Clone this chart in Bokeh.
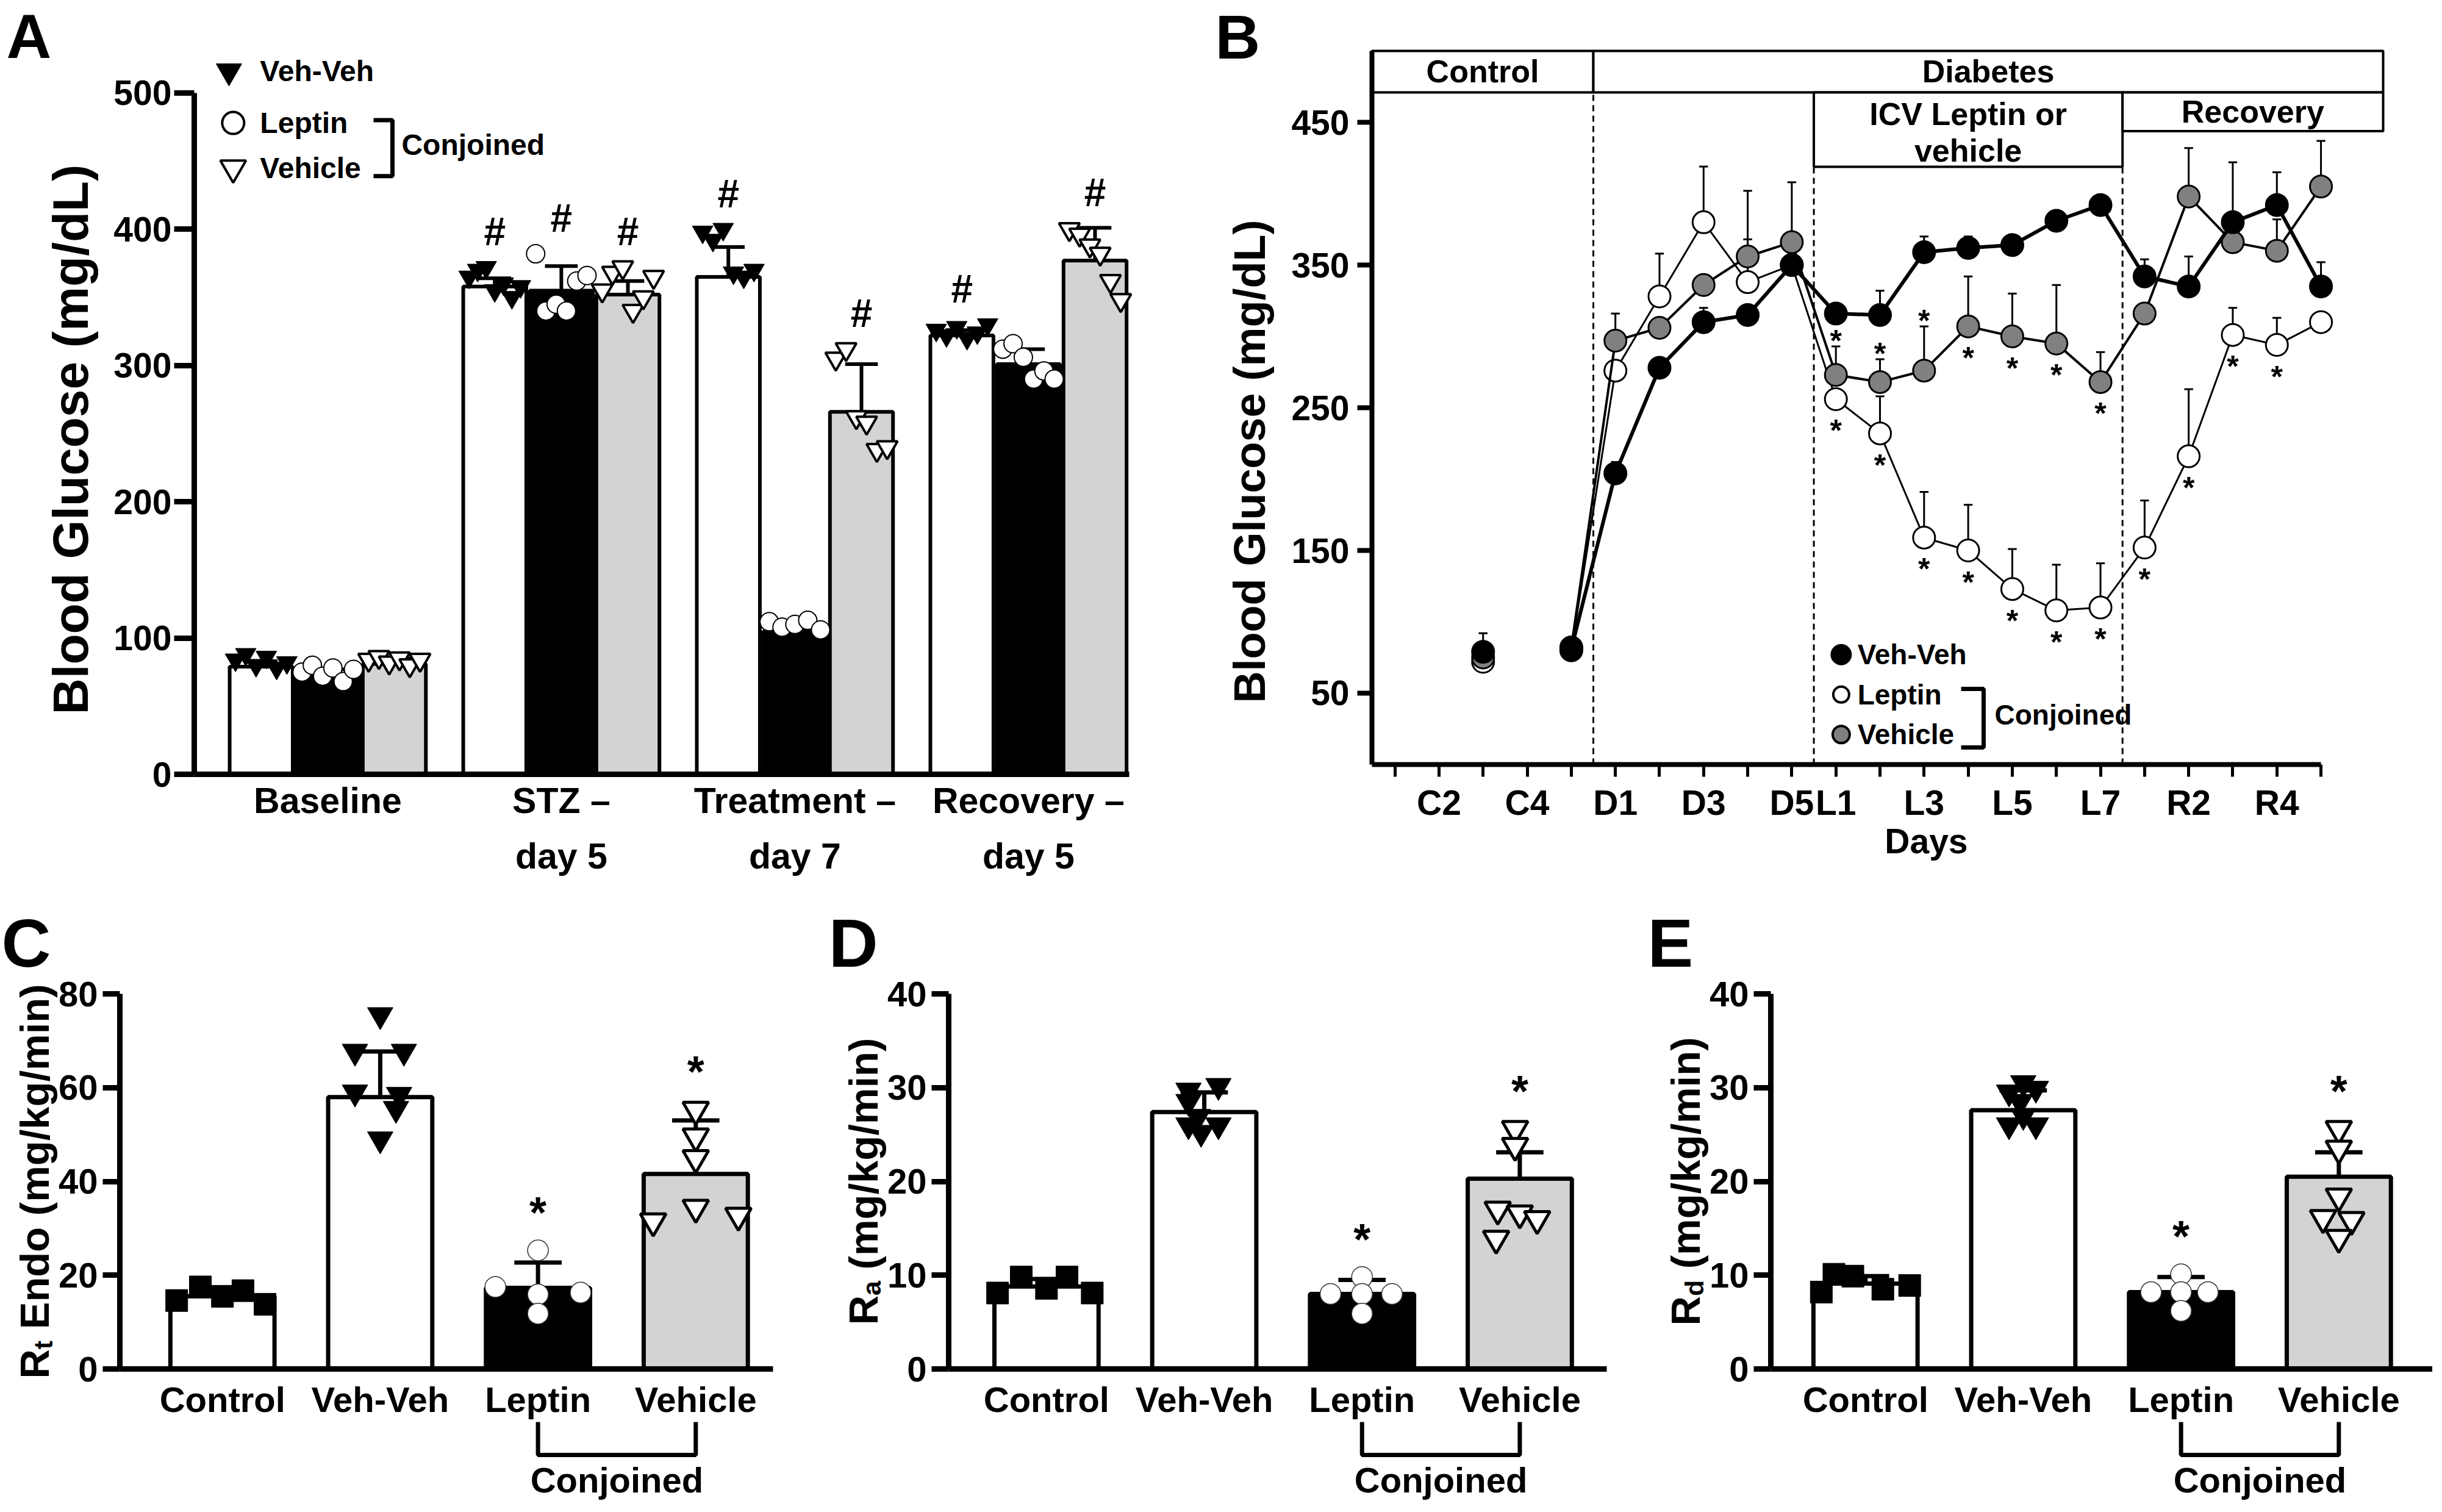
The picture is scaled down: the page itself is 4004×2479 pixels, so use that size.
import math
from bokeh.plotting import figure
from bokeh.layouts import row, column
from bokeh.models import FixedTicker, Range1d
from bokeh.core.properties import value
from bokeh.embed import file_html
from bokeh.resources import INLINE

NaN = float("nan")

# ============================ DATA ============================
# Panel A - blood glucose (mg/dL) per period
A_GROUPS = ["Baseline", "STZ –\nday 5", "Treatment –\nday 7", "Recovery –\nday 5"]
A_SERIES = ["Veh-Veh", "Leptin", "Vehicle"]
A_VEHVEH_MEAN = [79, 358, 365, 322]
A_LEPTIN_MEAN = [73, 355, 105, 301]
A_VEHICLE_MEAN = [81, 352, 266, 377]
A_VEHVEH_SEM = [4, 6, 22, 4]
A_LEPTIN_SEM = [4, 18, 4, 11]
A_VEHICLE_SEM = [4, 10, 35, 24]
A_VEHVEH_PTS = [[84, 88, 80, 86, 78, 82],
                [365, 370, 372, 355, 360, 350, 358],
                [398, 392, 400, 368, 365, 370],
                [326, 322, 328, 320, 324, 330]]
A_LEPTIN_PTS = [[75, 80, 72, 78, 68, 77],
                [382, 340, 345, 340, 362, 366],
                [112, 108, 110, 113, 106],
                [312, 316, 306, 290, 296, 290]]
A_VEHICLE_PTS = [[84, 86, 82, 85, 80, 84],
                 [355, 368, 372, 340, 350, 365],
                 [305, 312, 262, 258, 238, 240],
                 [400, 396, 388, 382, 362, 348]]
A_VEHVEH_SIG = [False, True, True, True]
A_LEPTIN_SIG = [False, True, False, False]
A_VEHICLE_SIG = [False, True, True, True]

# Panel B - daily blood glucose (mg/dL)
B_DAYS = ["C1", "C2", "C3", "C4", "C5", "D1", "D2", "D3", "D4", "D5",
          "L1", "L2", "L3", "L4", "L5", "L6", "L7", "R1", "R2", "R3", "R4", "R5"]
B_LABELED = ["C2", "C4", "D1", "D3", "D5", "L1", "L3", "L5", "L7", "R2", "R4"]
B_PHASES = ["Control", "Diabetes", "ICV Leptin or", "vehicle", "Recovery"]
B_VEHVEH = [NaN, NaN, 79, NaN, 81, 204, 278, 310, 315, 350, 316, 315, 359, 362, 364, 381, 392,
            342, 335, 380, 392, 335]
B_LEPTIN = [NaN, NaN, 72, NaN, 80, 276, 328, 380, 338, 350, 256, 232, 159, 150, 123, 108, 110,
            152, 216, 301, 294, 310]
B_VEHICLE = [NaN, NaN, 75, NaN, 82, 297, 306, 336, 356, 366, 273, 268, 276, 307, 300, 295, 268,
             316, 398, 366, 360, 405]
B_VEHVEH_SEM = [0, 0, 13, 0, 4, 8, 0, 10, 0, 0, 0, 17, 11, 8, 3, 0, 0, 12, 21, 42, 23, 17]
B_LEPTIN_SEM = [0, 0, 0, 0, 0, 0, 30, 39, 30, 0, 0, 26, 32, 32, 28, 32, 31, 33, 47, 19, 19, 0]
B_VEHICLE_SEM = [0, 0, 0, 0, 0, 19, 0, 0, 46, 42, 20, 16, 31, 35, 30, 41, 21, 0, 34, 0, 22, 32]
B_LEPTIN_SIG = [d in ("L1", "L2", "L3", "L4", "L5", "L6", "L7", "R1", "R2", "R3", "R4") for d in B_DAYS]
B_VEHICLE_SIG = [d in ("L1", "L2", "L3", "L4", "L5", "L6", "L7") for d in B_DAYS]
B_VEHICLE_SIG_ABOVE = ["L1", "L2", "L3"]

# Panels C-E - glucose kinetics (mg/kg/min)
CAT = ["Control", "Veh-Veh", "Leptin", "Vehicle"]
C_MEAN = [15.5, 58.0, 17.3, 41.6]
C_SEM = [1.0, 9.7, 5.4, 11.4]
C_PTS = [[14.6, 17.5, 15.5, 16.7, 13.8],
         [75.5, 67.7, 67.7, 59.0, 58.5, 55.5, 49.0],
         [25.3, 17.5, 16.3, 15.9, 11.8],
         [55.3, 49.6, 45.0, 31.5, 34.4, 32.7]]
D_MEAN = [8.8, 27.4, 8.0, 20.3]
D_SEM = [0.8, 2.1, 1.5, 2.8]
D_PTS = [[8.1, 9.8, 8.6, 9.8, 8.1],
         [29.7, 30.2, 28.5, 26.9, 26.0, 26.0, 25.2],
         [9.8, 8.0, 8.0, 8.0, 5.9],
         [25.6, 23.8, 17.0, 16.6, 16.0, 13.9]]
E_MEAN = [9.1, 27.6, 8.2, 20.5]
E_SEM = [0.8, 2.1, 1.6, 2.6]
E_PTS = [[8.2, 10.1, 9.9, 8.5, 8.9],
         [30.5, 29.5, 29.9, 28.5, 26.0, 26.0, 27.0],
         [10.1, 8.2, 8.2, 8.2, 6.2],
         [25.6, 23.5, 18.4, 16.1, 15.9, 14.0]]
CDE_SIG = [False, False, True, True]

# ============================ STYLE ============================
FONT = "Liberation Sans"
GRAY_BAR = "#d3d3d3"
GRAY_PT = "#808080"
LETTER_FS = 102          # (avoid sizes such as 100 that look like a CSS font weight)
LETTER_FS_BOTTOM = 112

# horizontal point spread inside the bars of C-E (x units, layout only)
C_JIT = [[-0.29, -0.14, 0.0, 0.13, 0.27], [0, -0.16, 0.15, -0.16, 0.12, 0.10, 0],
         [0, -0.27, 0.27, 0, 0], [0, 0, 0, -0.27, 0, 0.27]]
D_JIT = [[-0.31, -0.16, 0, 0.13, 0.29], [-0.1, 0.09, -0.1, -0.04, 0.09, -0.1, -0.02],
         [0, -0.2, 0, 0.19, 0], [-0.03, -0.03, -0.14, 0, 0.11, -0.15]]
E_JIT = [[-0.28, -0.2, -0.08, 0.11, 0.28], [0, -0.09, 0.08, -0.02, -0.09, 0.08, 0],
         [0, -0.19, 0, 0.17, 0], [0, 0, 0, -0.1, 0.08, 0]]

AW = {'R': .722, 'E': .667, 'n': .611, 'd': .611, 'o': .611, ' ': .278, '(': .333, ')': .333,
      'm': .889, 'g': .611, '/': .278, 'k': .556, 'i': .278, 't': .333, 'a': .556}


def base_fig(width, height, xr, yr):
    p = figure(width=width, height=height, x_range=Range1d(*xr), y_range=Range1d(*yr),
               output_backend="svg", toolbar_location=None, min_border=0,
               min_border_left=0, min_border_right=0, min_border_top=0, min_border_bottom=0)
    p.xgrid.visible = False
    p.ygrid.visible = False
    p.outline_line_color = None
    p.background_fill_color = "white"
    p.border_fill_color = "white"
    return p


def style_axis(ax, lw, tick_out, fs, standoff, loc, bounds):
    ax.fixed_location = loc
    ax.bounds = bounds
    ax.axis_line_width = lw
    ax.axis_line_color = "black"
    ax.major_tick_line_width = lw
    ax.major_tick_line_color = "black"
    ax.major_tick_out = tick_out
    ax.major_tick_in = 0
    ax.minor_tick_line_color = None
    ax.major_label_text_font = FONT
    ax.major_label_text_font_style = "bold"
    ax.major_label_text_font_size = f"{fs}px"
    ax.major_label_text_color = "black"
    ax.major_label_standoff = standoff


def txt(p, xs, ys, texts, fs, align="center", baseline="middle", angle=0.0):
    p.text(x=xs, y=ys, text=texts, text_font=value(FONT), text_font_size=f"{fs}px",
           text_font_style="bold", text_align=align, text_baseline=baseline, text_color="black",
           angle=angle)


# ============================ PANEL A ============================
A_AX = 0.428
pA = base_fig(1952, 1450, (-0.402, 4.695), (-81.0, 568.0))
A_PPU = 2.234
offs = [-0.285, 0.0, 0.285]
bar_w = 0.27
a_means = [A_VEHVEH_MEAN, A_LEPTIN_MEAN, A_VEHICLE_MEAN]
a_sems = [A_VEHVEH_SEM, A_LEPTIN_SEM, A_VEHICLE_SEM]
a_pts = [A_VEHVEH_PTS, A_LEPTIN_PTS, A_VEHICLE_PTS]
a_sig = [A_VEHVEH_SIG, A_LEPTIN_SIG, A_VEHICLE_SIG]
a_fill = ["white", "black", GRAY_BAR]
for k in range(3):
    xs = [i + 1 + offs[k] for i in range(len(A_GROUPS))]
    tops = [m + s for m, s in zip(a_means[k], a_sems[k])]
    pA.vbar(x=xs, top=a_means[k], bottom=0, width=bar_w, fill_color=a_fill[k],
            line_color="black", line_width=6)
    pA.segment(x0=xs, y0=a_means[k], x1=xs, y1=tops, line_color="black", line_width=6)
    pA.segment(x0=[x - 0.07 for x in xs], y0=tops, x1=[x + 0.07 for x in xs], y1=tops,
               line_color="black", line_width=6)
for k in range(3):
    px, py = [], []
    for i, vals in enumerate(a_pts[k]):
        n = len(vals)
        for j, v in enumerate(vals):
            px.append(i + 1 + offs[k] + (-0.11 + 0.22 * j / (n - 1)))
            py.append(v)
    if k == 0:
        pA.scatter(px, py, marker="inverted_triangle", size=34, fill_color="black", line_color="black")
    elif k == 1:
        pA.scatter(px, py, marker="circle", size=30, fill_color="white", line_color="black", line_width=2)
    else:
        pA.scatter(px, py, marker="inverted_triangle", size=34, fill_color="white", line_color="black",
                   line_width=4)
hx, hy = [], []
for k in range(3):
    for i in range(len(A_GROUPS)):
        if a_sig[k][i]:
            top = max(max(a_pts[k][i]), a_means[k][i] + a_sems[k][i])
            hx.append(i + 1 + offs[k])
            hy.append(top + 26)
txt(pA, hx, hy, ["#"] * len(hx), 64)
# legend of A
pA.scatter([0.577], [516], marker="inverted_triangle", size=42, fill_color="black", line_color="black")
pA.scatter([0.595], [478], marker="circle", size=36, fill_color="white", line_color="black", line_width=4)
pA.scatter([0.595], [445], marker="inverted_triangle", size=42, fill_color="white", line_color="black",
           line_width=4)
txt(pA, [0.71, 0.71, 0.71], [516, 478, 445], A_SERIES, 48, align="left")
pA.line([1.196, 1.277, 1.277, 1.196], [480, 480, 439, 439], line_color="black", line_width=7)
txt(pA, [1.316], [462], ["Conjoined"], 48, align="left")
style_axis(pA.yaxis[0], 9, 33, 57, 4, A_AX, (0, 500))
pA.yaxis.ticker = FixedTicker(ticks=[0, 100, 200, 300, 400, 500])
style_axis(pA.xaxis[0], 9, 0, 59, 10, 0, (A_AX, 4.43))
pA.xaxis.major_tick_line_color = None
pA.xaxis.major_label_text_line_height = 1.39
pA.xaxis.ticker = FixedTicker(ticks=[1, 2, 3, 4])
pA.xaxis.major_label_overrides = {i + 1: g for i, g in enumerate(A_GROUPS)}
txt(pA, [-0.102], [245.7], ["Blood Glucose (mg/dL)"], 82, angle=math.pi / 2)
txt(pA, [-0.376], [(1277 - 68) / A_PPU], ["A"], LETTER_FS, align="left")

# ============================ PANEL B ============================
B_AX = 0.48
pB = base_fig(2036, 1450, (-3.628, 24.53), (-84.2, 535.5))
B_PPU = 2.34
bx = list(range(1, len(B_DAYS) + 1))
bnd = {}
for i in range(1, len(B_DAYS)):
    if B_DAYS[i][0] != B_DAYS[i - 1][0]:
        bnd[B_DAYS[i][0]] = i + 0.5
X1 = 23.41
TOP, ROW1, ROW2A, ROW2B = 500, 471, 418.8, 443.8
box_l = [B_AX, bnd["D"], bnd["L"], bnd["R"]]
box_r = [bnd["D"], X1, bnd["R"], X1]
box_b = [ROW1, ROW1, ROW2A, ROW2B]
box_t = [TOP, TOP, ROW1, ROW1]
pB.quad(left=box_l, right=box_r, bottom=box_b, top=box_t, fill_color="white",
        line_color="black", line_width=4)
cx = [(l + r) / 2 for l, r in zip(box_l, box_r)]
txt(pB, [cx[0], cx[1], cx[2], cx[2], cx[3]],
    [(ROW1 + TOP) / 2, (ROW1 + TOP) / 2, 456, 430, (ROW1 + ROW2B) / 2],
    B_PHASES, 52)
pB.segment(x0=[bnd["D"], bnd["L"], bnd["R"]], y0=[0, 0, 0],
           x1=[bnd["D"], bnd["L"], bnd["R"]], y1=[ROW1, ROW2A, ROW2A],
           line_color="black", line_width=3, line_dash="10 7")


def b_series(vals, sems, fill, lw):
    keep = [i for i in range(len(vals)) if sems[i] > 0 and not math.isnan(vals[i])]
    ex = [bx[i] for i in keep]
    ey0 = [vals[i] for i in keep]
    ey1 = [vals[i] + sems[i] for i in keep]
    pB.segment(x0=ex, y0=ey0, x1=ex, y1=ey1, line_color="black", line_width=3)
    pB.segment(x0=[x - 0.1 for x in ex], y0=ey1, x1=[x + 0.1 for x in ex], y1=ey1,
               line_color="black", line_width=3)
    pB.line(bx, vals, line_color="black", line_width=lw)
    okx = [x for x, v in zip(bx, vals) if not math.isnan(v)]
    oky = [v for v in vals if not math.isnan(v)]
    pB.scatter(okx, oky, marker="circle", size=36, fill_color=fill, line_color="black", line_width=3)


b_series(B_LEPTIN, B_LEPTIN_SEM, "white", 3)
b_series(B_VEHICLE, B_VEHICLE_SEM, GRAY_PT, 4)
b_series(B_VEHVEH, B_VEHVEH_SEM, "black", 6)
B_STAR_FS = 50
sx, sy = [], []
for i, d in enumerate(B_DAYS):
    if B_LEPTIN_SIG[i]:
        sx.append(bx[i]); sy.append(B_LEPTIN[i] - 52 / B_PPU)
    if B_VEHICLE_SIG[i]:
        sx.append(bx[i])
        if d in B_VEHICLE_SIG_ABOVE:
            sy.append(B_VEHICLE[i] + B_VEHICLE_SEM[i] + 9 / B_PPU)
        else:
            sy.append(B_VEHICLE[i] - 52 / B_PPU)
txt(pB, sx, sy, ["*"] * len(sx), B_STAR_FS)
# legend of B
pB.scatter([11.12], [77], marker="circle", size=34, fill_color="black", line_color="black")
pB.scatter([11.12], [49], marker="circle", size=26, fill_color="white", line_color="black", line_width=4)
pB.scatter([11.12], [21], marker="circle", size=28, fill_color=GRAY_PT, line_color="black", line_width=4)
txt(pB, [11.49] * 3, [77, 49, 21], A_SERIES, 46, align="left")
pB.line([13.84, 14.35, 14.35, 13.84], [53, 53, 12, 12], line_color="black", line_width=7)
txt(pB, [14.6], [35], ["Conjoined"], 46, align="left")
style_axis(pB.yaxis[0], 8, 24, 57, 13, B_AX, (0, 500))
pB.yaxis.ticker = FixedTicker(ticks=[50, 150, 250, 350, 450])
style_axis(pB.xaxis[0], 8, 20, 57, 11, 0, (B_AX, len(B_DAYS)))
pB.xaxis.major_tick_line_width = 5
lab_x = [x for x, d in zip(bx, B_DAYS) if d in B_LABELED]
oth_x = [x for x, d in zip(bx, B_DAYS) if d not in B_LABELED]
pB.xaxis.ticker = FixedTicker(ticks=lab_x, minor_ticks=oth_x)
pB.xaxis.minor_tick_line_color = "black"
pB.xaxis.minor_tick_line_width = 5
pB.xaxis.minor_tick_out = 20
pB.xaxis.minor_tick_in = 0
pB.xaxis.major_label_overrides = {x: d for x, d in zip(bx, B_DAYS) if d in B_LABELED}
txt(pB, [13.05], [-126 / B_PPU], ["Days"], 57)
txt(pB, [-2.30], [212.4], ["Blood Glucose (mg/dL)"], 72, angle=math.pi / 2)
txt(pB, [-3.075], [(1261 - 68) / B_PPU], ["B"], LETTER_FS, align="left")


# ============================ PANELS C-E ============================
def rate_panel(width, xr, ax_x, x_end, ymax, step, mean, sem, pts, jit, sub, rest, letter, lx):
    ppu = 615.0 / ymax
    yr = (-219.0 / ppu, 794.0 / ppu)
    p = base_fig(width, 1013, xr, yr)
    xppu = 258.7
    xs = list(range(1, len(CAT) + 1))
    fills = ["white", "white", "black", GRAY_BAR]
    tops = [m + s for m, s in zip(mean, sem)]
    p.vbar(x=xs, top=mean, bottom=0, width=0.66, fill_color=fills, line_color="black", line_width=7)
    p.segment(x0=xs, y0=mean, x1=xs, y1=tops, line_color="black", line_width=7)
    p.segment(x0=[x - 0.15 for x in xs], y0=tops, x1=[x + 0.15 for x in xs], y1=tops,
              line_color="black", line_width=7)
    mk = [("square", "black", "black", 1, 36), ("inverted_triangle", "black", "black", 1, 42),
          ("circle", "white", "#333333", 1.5, 34), ("inverted_triangle", "white", "black", 5, 42)]
    for i in range(len(CAT)):
        m, fc, lc, lw, sz = mk[i]
        p.scatter([xs[i] + j for j in jit[i]], pts[i], marker=m, size=sz, fill_color=fc,
                  line_color=lc, line_width=lw)
    ax, ay = [], []
    for i in range(len(CAT)):
        if CDE_SIG[i]:
            ax.append(xs[i])
            ay.append(max(max(pts[i]), tops[i]) + 62 / ppu)
    txt(p, ax, ay, ["*"] * len(ax), 72)
    # "Conjoined" bracket under Leptin / Vehicle
    p.line([3, 3, 4, 4], [-87 / ppu, -141 / ppu, -141 / ppu, -87 / ppu], line_color="black", line_width=7)
    txt(p, [3.5], [-182 / ppu], ["Conjoined"], 58)
    style_axis(p.yaxis[0], 9, 28, 58, 8, ax_x, (0, ymax))
    p.yaxis.ticker = FixedTicker(ticks=list(range(0, ymax + 1, step)))
    style_axis(p.xaxis[0], 9, 0, 58, 17, 0, (ax_x, x_end))
    p.xaxis.major_tick_line_color = None
    p.xaxis.ticker = FixedTicker(ticks=xs)
    p.xaxis.major_label_overrides = {x: c for x, c in zip(xs, CAT)}
    # y-axis title with subscript
    fs, sfs = 67, 43
    xt = ax_x - 140 / xppu
    w_r = AW['R'] * fs
    w_s = AW[sub] * sfs
    w_sp = AW[' '] * fs
    body = rest.strip()
    w_rest = sum(AW[c] for c in body) * fs
    total = w_r + w_s + w_sp + w_rest
    start = (ymax / 2 * ppu - total / 2) / ppu
    txt(p, [xt], [start], ["R"], fs, align="left", baseline="alphabetic", angle=math.pi / 2)
    txt(p, [xt + 14 / xppu], [start + w_r / ppu], [sub], sfs, align="left", baseline="alphabetic",
        angle=math.pi / 2)
    txt(p, [xt], [start + (w_r + w_s + w_sp) / ppu], [body], fs, align="left", baseline="alphabetic",
        angle=math.pi / 2)
    txt(p, [lx], [698.5 / ppu], [letter], LETTER_FS_BOTTOM, align="left")
    return p


pC = rate_panel(1332, (-0.408, 4.741), 0.35, 4.49, 80, 20, C_MEAN, C_SEM, C_PTS, C_JIT, "t",
                "Endo (mg/kg/min)", "C", -0.40)
pD = rate_panel(1340, (-0.482, 4.698), 0.38, 4.55, 40, 10, D_MEAN, D_SEM, D_PTS, D_JIT, "a",
                "(mg/kg/min)", "D", -0.381)
pE = rate_panel(1316, (-0.493, 4.594), 0.40, 4.594, 40, 10, E_MEAN, E_SEM, E_PTS, E_JIT, "d",
                "(mg/kg/min)", "E", -0.381)

layout = column(row(pA, pB), row(pC, pD, pE))
open("out.html", "w").write(file_html(layout, INLINE))
